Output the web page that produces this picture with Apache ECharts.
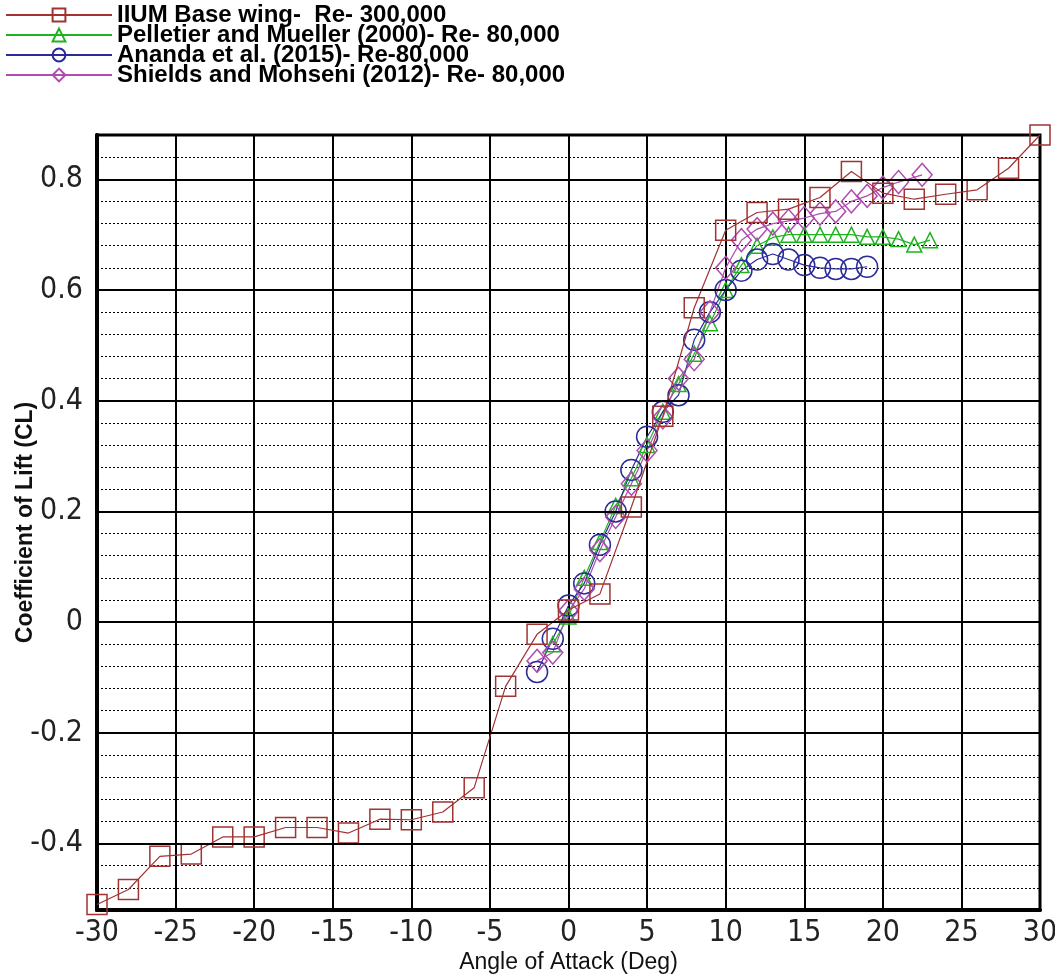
<!DOCTYPE html>
<html>
<head>
<meta charset="utf-8">
<script src="https://cdn.jsdelivr.net/npm/echarts@6/dist/echarts.min.js"></script>
<style>
html,body{margin:0;padding:0;background:#fff;}
#chart{width:1055px;height:976px;}
</style>
</head>
<body>
<div id="chart"></div>
<script>
// ---- data ----
const seriesNames = [
  'IIUM Base wing-  Re- 300,000',
  'Pelletier and Mueller (2000)- Re- 80,000',
  'Ananda et al. (2015)- Re-80,000',
  'Shields and Mohseni (2012)- Re- 80,000'
];

const iiumAoA = [-30,-28,-26,-24,-22,-20,-18,-16,-14,-12,-10,-8,-6,-4,-2,0,2,4,6,8,10,12,14,16,18,20,22,24,26,28,30];
const iiumCL  = [-0.510,-0.483,-0.423,-0.419,-0.388,-0.388,-0.371,-0.371,-0.381,-0.356,-0.357,-0.343,-0.299,-0.116,-0.022,0.022,0.051,0.208,0.372,0.568,0.708,0.740,0.746,0.767,0.814,0.775,0.764,0.773,0.781,0.820,0.880];

const pelletierAoA = [-1,0,1,2,3,4,5,6,7,8,9,10,11,12,13,14,15,16,17,18,19,20,21,22,23];
const pelletierCL  = [-0.04,0.01,0.08,0.145,0.21,0.26,0.32,0.38,0.43,0.485,0.54,0.60,0.645,0.68,0.695,0.700,0.700,0.700,0.700,0.700,0.696,0.696,0.692,0.682,0.690];

const anandaAoA = [-2,-1,0,1,2,3,4,5,6,7,8,9,10,11,12,13,14,15,16,17,18,19];
const anandaCL  = [-0.09,-0.03,0.03,0.07,0.14,0.20,0.275,0.335,0.38,0.41,0.51,0.56,0.60,0.635,0.655,0.665,0.655,0.645,0.640,0.638,0.638,0.642];

const shieldsAoA = [-2,-1,0,1,2,3,4,5,6,7,8,9,10,11,12,13,14,15,16,17,18,19,20,21,22.5];
const shieldsCL  = [-0.07,-0.055,0.02,0.06,0.13,0.19,0.25,0.31,0.37,0.44,0.475,0.56,0.64,0.69,0.71,0.72,0.725,0.73,0.738,0.742,0.76,0.77,0.785,0.795,0.808];

const xTicks = [-30,-25,-20,-15,-10,-5,0,5,10,15,20,25,30];
const yTickLabels = [-0.4,-0.2,0,0.2,0.4,0.6,0.8];

const xTitle = 'Angle of Attack (Deg)';
const yTitle = 'Coefficient of Lift (CL)';

// ---- chart ----
const pair = (xs, ys) => xs.map((x, i) => [x, ys[i]]);
const narrow = "'Liberation Sans Narrow', 'DejaVu Sans Condensed', 'Liberation Sans', Arial, sans-serif";
const sans = "'Liberation Sans', Arial, sans-serif";

const colors = ['#a33232', '#1fb31f', '#2a2a9a', '#b04cb0'];
const symbols = ['rect', 'triangle', 'circle', 'diamond'];
const sizes = [20, 15, 21, [20, 23]];
const datasets = [pair(iiumAoA, iiumCL), pair(pelletierAoA, pelletierCL), pair(anandaAoA, anandaCL), pair(shieldsAoA, shieldsCL)];

const dataSeries = seriesNames.map((name, i) => ({
  name: name,
  type: 'line',
  data: datasets[i],
  symbol: symbols[i],
  symbolSize: sizes[i],
  showAllSymbol: true,
  z: 3 + (i === 0 ? 1 : 0),
  lineStyle: { color: colors[i], width: 1.2 },
  itemStyle: { color: 'rgba(255,255,255,0)', borderColor: colors[i], borderWidth: 1.5 }
}));

const majorLines = {
  name: 'majorGrid',
  type: 'line',
  data: [],
  z: 1,
  silent: true,
  markLine: {
    silent: true,
    symbol: 'none',
    label: { show: false },
    lineStyle: { color: '#000', width: 2, type: 'solid' },
    data: yTickLabels.map(v => ({ yAxis: v }))
  }
};

const chart = echarts.init(document.getElementById('chart'), null, { renderer: 'canvas' });
chart.setOption({
  backgroundColor: '#fff',
  animation: false,
  legend: {
    data: seriesNames,
    orient: 'vertical',
    left: 5,
    top: 3,
    padding: 0,
    itemWidth: 106,
    itemHeight: 16,
    itemGap: -4,
    textStyle: { fontFamily: sans, fontWeight: 'bold', fontSize: 24, color: '#000' }
  },
  grid: {
    left: 97, right: 15, top: 135, bottom: 66,
    containLabel: false,
    outerBoundsMode: 'none',
    show: true, borderColor: '#000', borderWidth: 3, backgroundColor: 'transparent'
  },
  xAxis: {
    type: 'value',
    min: xTicks[0], max: xTicks[xTicks.length - 1], interval: xTicks[1] - xTicks[0],
    name: xTitle,
    nameLocation: 'middle',
    nameGap: 41,
    nameMoveOverlap: false,
    nameTextStyle: { fontFamily: sans, fontSize: 23, color: '#111' },
    axisLine: { show: true, onZero: false, lineStyle: { color: '#000', width: 4 } },
    axisTick: { show: false },
    axisLabel: { margin: 8, fontFamily: narrow, fontSize: 30, color: '#222' },
    splitLine: { show: true, lineStyle: { color: '#000', width: 2, type: 'solid' } }
  },
  yAxis: {
    type: 'value',
    min: -0.52, max: 0.88, interval: 0.04,
    name: yTitle,
    nameLocation: 'middle',
    nameGap: 60,
    nameMoveOverlap: false,
    nameRotate: 90,
    nameTextStyle: { fontFamily: sans, fontWeight: 'bold', fontSize: 23, color: '#111' },
    axisLine: { show: true, onZero: false, lineStyle: { color: '#000', width: 4 } },
    axisTick: { show: false },
    axisLabel: {
      margin: 14, fontFamily: narrow, fontSize: 30, color: '#222',
      showMinLabel: true, showMaxLabel: true, interval: 0,
      formatter: function (v) {
        const hit = yTickLabels.find(t => Math.abs(t - v) < 1e-6);
        if (hit === undefined) return '';
        return hit === 0 ? '0' : String(hit);
      }
    },
    splitLine: { show: true, lineStyle: { color: '#000', width: 1, type: [2, 2] } }
  },
  series: [majorLines].concat(dataSeries)
});
</script>
</body>
</html>
